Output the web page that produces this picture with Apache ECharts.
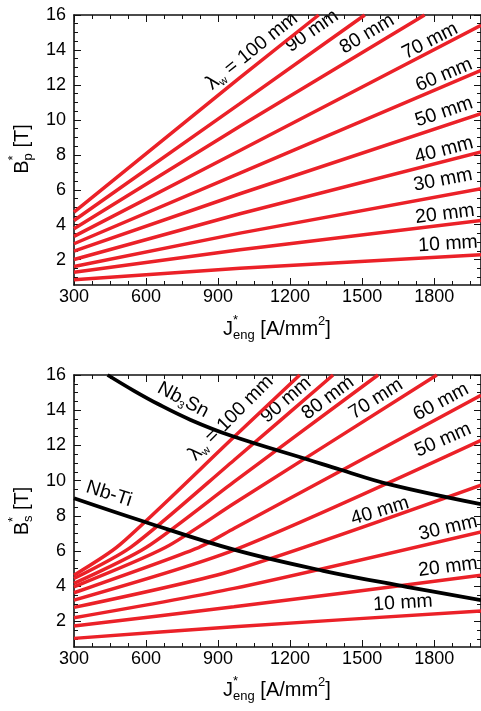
<!DOCTYPE html>
<html><head><meta charset="utf-8">
<script src="https://cdn.jsdelivr.net/npm/echarts@6/dist/echarts.min.js"></script>
<style>html,body{margin:0;padding:0;background:#fff}#c{width:481px;height:711px}</style>
</head><body><div id="c"></div>
<script>
// ---- data ----
const wavelengthsMm = [10,20,30,40,50,60,70,80,90,100];
const xMajorTicks = [300,600,900,1200,1500,1800];
const yMajorTicks = [2,4,6,8,10,12,14,16];
// top panel: B_p* [T] vs J_eng* [A/mm2]
const bp10  = [[300,0.85],[991,1.51],[1995,2.28]];
const bp20  = [[300,1.28],[991,2.57],[1995,4.24]];
const bp30  = [[300,1.61],[991,3.52],[1995,6.06]];
const bp40  = [[300,2.01],[991,4.63],[1995,8.16]];
const bp50  = [[300,2.49],[991,5.77],[1995,10.36]];
const bp60  = [[300,2.91],[991,6.95],[1995,12.83]];
const bp70  = [[300,3.33],[991,8.25],[1995,15.41]];
const bp80  = [[300,3.77],[991,9.63],[1760,16]];
const bp90  = [[300,4.24],[991,10.93],[1511,16]];
const bp100 = [[300,4.72],[991,12.42],[1319,16]];
// bottom panel: B_s* [T]
const bs10  = [[300,1.04],[966,1.70],[1995,2.60]];
const bs20  = [[300,1.74],[966,2.83],[1995,4.62]];
const bs30  = [[300,2.21],[966,3.88],[1995,7.09]];
const bs40  = [[300,2.80],[966,4.91],[1995,9.74]];
const bs50  = [[300,3.21],[966,6.05],[1995,12.29]];
const bs60  = [[300,3.63],[819,6.20],[966,7.28],[1995,14.85]];
const bs70  = [[300,3.97],[680,6.20],[966,8.70],[1811,16]];
const bs80  = [[300,4.16],[600,6.20],[966,9.93],[1566,16]];
const bs90  = [[300,4.44],[540,6.25],[966,11.16],[1379,16]];
const bs100 = [[300,4.63],[490,6.35],[966,12.48],[1240,16]];
const nb3snCurve = [[440,16],[550,15.1],[650,14.35],[786,13.45],[955,12.55],[1283,11.16],[1407,10.63],[1610,9.8],[1995,8.66]];
const nbtiCurve  = [[300,9.0],[590,7.68],[966,6.08],[1338,4.88],[1685,3.97],[1995,3.21]];

const bpSeries = [bp10,bp20,bp30,bp40,bp50,bp60,bp70,bp80,bp90,bp100];
const bsSeries = [bs10,bs20,bs30,bs40,bs50,bs60,bs70,bs80,bs90,bs100];

// ---- style ----
const FONT = '"Liberation Sans", Arial, Helvetica, sans-serif';
const RED = '#eb2128';
const AX = '#111';
const X_MIN = 300, X_MAX = 1995, Y_MIN = 0.55, Y_MAX = 16;

const xMinorTicks = [];
for (let v = 375; v < X_MAX; v += 75) if (v % 300 !== 0) xMinorTicks.push(v);
const yMinorTicks = [];
for (let v = 1; v < Y_MAX; v += 0.5) if (v % 2 !== 0) yMinorTicks.push(v);

const grids = [
  {left:74, top:15, width:407, height:270},
  {left:74, top:375, width:407, height:272}
];

function mkAxis(dim, g, pos, major, withLabel, min, max) {
  const vals = major ? (dim==='x'?xMajorTicks:yMajorTicks) : (dim==='x'?xMinorTicks:yMinorTicks);
  return {
    type:'value', gridIndex:g, position:pos, min:min, max:max,
    axisLine:{show:major, onZero:false, lineStyle:{color:AX, width:1.6}},
    axisTick:{show:true, inside:true, length: major?7:4, customValues: vals, lineStyle:{color:AX, width:1}},
    axisLabel:{show:withLabel, customValues: vals, formatter: v => String(v), fontSize:18, fontFamily:FONT, color:'#000', margin: dim==='x'?3:8},
    splitLine:{show:false}
  };
}
const xAxes = [], yAxes = [];
for (let g = 0; g < 2; g++) {
  xAxes.push(mkAxis('x',g,'bottom',true,true,X_MIN,X_MAX));
  xAxes.push(mkAxis('x',g,'bottom',false,false,X_MIN,X_MAX));
  xAxes.push(mkAxis('x',g,'top',true,false,X_MIN,X_MAX));
  xAxes.push(mkAxis('x',g,'top',false,false,X_MIN,X_MAX));
  yAxes.push(mkAxis('y',g,'left',true,true,Y_MIN,Y_MAX));
  yAxes.push(mkAxis('y',g,'left',false,false,Y_MIN,Y_MAX));
  yAxes.push(mkAxis('y',g,'right',true,false,Y_MIN,Y_MAX));
  yAxes.push(mkAxis('y',g,'right',false,false,Y_MIN,Y_MAX));
}

const series = [];
bpSeries.forEach((d,i)=>series.push({type:'line', name:'Bp '+wavelengthsMm[i]+' mm', xAxisIndex:0, yAxisIndex:0, data:d, symbol:'none', clip:true, lineStyle:{color:RED,width:3.5}, z:3}));
bsSeries.forEach((d,i)=>series.push({type:'line', name:'Bs '+wavelengthsMm[i]+' mm', xAxisIndex:4, yAxisIndex:4, data:d, smooth:0.25, symbol:'none', clip:true, lineStyle:{color:RED,width:3.5}, z:3}));
series.push({type:'line', name:'Nb3Sn', xAxisIndex:4, yAxisIndex:4, data:nb3snCurve, smooth:0.4, symbol:'none', clip:true, lineStyle:{color:'#000',width:3.8}, z:4});
series.push({type:'line', name:'Nb-Ti', xAxisIndex:4, yAxisIndex:4, data:nbtiCurve, smooth:0.4, symbol:'none', clip:true, lineStyle:{color:'#000',width:3.8}, z:4});

// ---- text helpers ----
const mctx = document.createElement('canvas').getContext('2d');
function tw(t, fs){ mctx.font = fs+'px '+FONT; return mctx.measureText(t).width; }
// parts: {t, fs, dy, noAdv}
function label(parts, cx, cy, rotDeg) {
  let w = 0;
  parts.forEach(p => { if (!p.noAdv) w += tw(p.t, p.fs); });
  let x = -w/2;
  const children = parts.map(p => {
    const el = {type:'text', x:x, y:(p.dy||0), style:{text:p.t, fontSize:p.fs, fontFamily:FONT, fill:'#000', align:'left', verticalAlign:'middle'}};
    if (!p.noAdv) x += tw(p.t, p.fs);
    return el;
  });
  return {type:'group', x:cx, y:cy, rotation: rotDeg*Math.PI/180, children:children, z:10};
}
const LF = 19.5;
function mm(txt, cx, cy, rot){ return label([{t:txt, fs:LF}], cx, cy, rot); }
function lam(cx, cy, rot){ return label([{t:'λ', fs:LF+1},{t:'w', fs:11, dy:6},{t:' = 100 mm', fs:LF}], cx, cy, rot); }

const graphics = [
  // top panel labels
  lam(252,51,38.8),
  mm('90 mm',312,31,35), mm('80 mm',367,34,31), mm('70 mm',430,41,27),
  mm('60 mm',444,75,23), mm('50 mm',444,112,18.6), mm('40 mm',444,150,14.7),
  mm('30 mm',443,180,10.8), mm('20 mm',445,214,7.2), mm('10 mm',448,244,3.5),
  // bottom panel labels
  lam(231,418,45),
  mm('90 mm',286,400,40.7), mm('80 mm',328,398,36.6), mm('70 mm',376,399,32.4),
  mm('60 mm',441,402,28.2), mm('50 mm',443,440,23.9), mm('40 mm',380,511,17),
  mm('30 mm',448,528,12.9), mm('20 mm',448,567,7.2), mm('10 mm',403,603,3.6),
  label([{t:'Nb', fs:LF},{t:'3', fs:11, dy:6},{t:'Sn', fs:LF}], 183, 400, -28),
  label([{t:'Nb-Ti', fs:LF}], 109, 494, -18),
  // axis titles
  label([{t:'B', fs:20},{t:'*', fs:13, dy:-9, noAdv:true},{t:'p', fs:13, dy:6},{t:' [T]', fs:20}], 22, 149, 90),
  label([{t:'J', fs:20},{t:'*', fs:13, dy:-9, noAdv:true},{t:'eng', fs:13, dy:6},{t:' [A/mm', fs:20},{t:'2', fs:13, dy:-8},{t:']', fs:20}], 277, 329, 0),
  label([{t:'B', fs:20},{t:'*', fs:13, dy:-9, noAdv:true},{t:'s', fs:13, dy:6},{t:' [T]', fs:20}], 22, 511, 90),
  label([{t:'J', fs:20},{t:'*', fs:13, dy:-9, noAdv:true},{t:'eng', fs:13, dy:6},{t:' [A/mm', fs:20},{t:'2', fs:13, dy:-8},{t:']', fs:20}], 277, 690, 0)
];

const chart = echarts.init(document.getElementById('c'), null, {renderer:'canvas'});
chart.setOption({
  animation:false,
  backgroundColor:'#fff',
  grid: grids,
  xAxis: xAxes,
  yAxis: yAxes,
  series: series,
  graphic: graphics
});
</script>
</body></html>
